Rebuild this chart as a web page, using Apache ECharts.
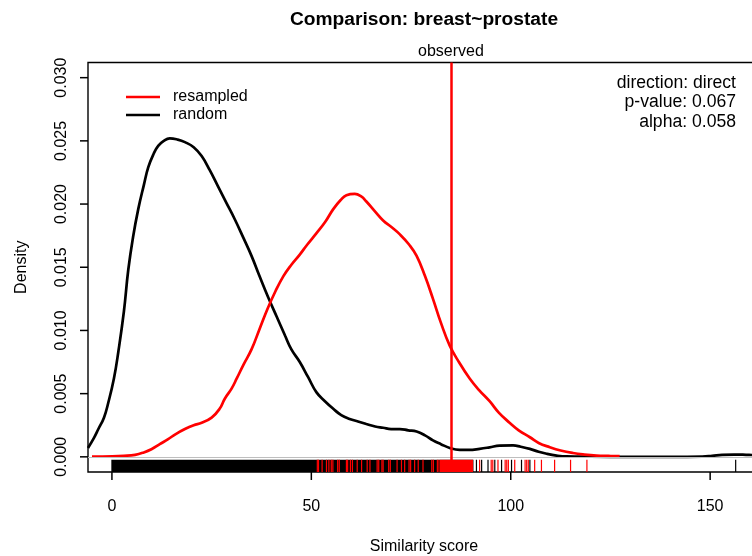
<!DOCTYPE html>
<html>
<head>
<meta charset="utf-8">
<script src="https://cdn.jsdelivr.net/npm/echarts@6/dist/echarts.min.js"></script>
<style>html,body{margin:0;padding:0;background:#fff}#c{width:752px;height:556px}</style>
</head>
<body>
<div id="c"></div>
<script>
// ---- data ----
const xTicks = [0, 50, 100, 150];
const yTicks = [0, 0.005, 0.01, 0.015, 0.02, 0.025, 0.03];

const randomDensity = [
  [-6, 0.0007], [-4.5, 0.0015], [-3.4, 0.0022], [-2, 0.0031], [-0.9, 0.0043], [0.5, 0.0062],
  [1.6, 0.0083], [3, 0.0115], [4.1, 0.0148], [5.3, 0.0174], [6.6, 0.0196], [8, 0.0215],
  [9.1, 0.0229], [10.5, 0.0240], [11.6, 0.0246], [13, 0.0250], [14.5, 0.0252], [16.5, 0.0251],
  [18.3, 0.0249], [20.5, 0.0245], [22.5, 0.0238], [24.5, 0.0227], [26.6, 0.0214], [28.7, 0.0201],
  [30.8, 0.0188], [33, 0.0173], [35, 0.0159], [37, 0.0143], [39.2, 0.0126], [41.3, 0.0111],
  [43.4, 0.0096], [45, 0.0085], [47.1, 0.0075], [49.2, 0.0063], [51.3, 0.0051], [53.4, 0.0044],
  [55.5, 0.0038], [57.5, 0.0033], [59.6, 0.0030], [61.7, 0.0028], [63.8, 0.0026], [66, 0.0024],
  [68, 0.0023], [70, 0.0022], [72.2, 0.0022], [74.3, 0.0021], [76.4, 0.0020], [78.5, 0.0017],
  [80.5, 0.0013], [82.5, 0.0010], [84.7, 0.0007], [87.2, 0.00055], [89.5, 0.00055], [92.2, 0.00063],
  [94.7, 0.00075], [97.2, 0.00089], [100.6, 0.0009], [102.5, 0.0008], [104.8, 0.00063], [107, 0.0004],
  [109, 0.00024], [111.5, 0.0001], [114, 0.00003], [120, 0.00001], [130, 0], [140, 0],
  [148, 0.00002], [150.5, 0.00008], [153, 0.00016], [156, 0.00018], [159, 0.00016], [162.5, 0.00012]
];

const resampledDensity = [
  [-5, 0.00002], [0, 0.00004], [3, 0.00008], [5.8, 0.00016], [8, 0.00035], [9.9, 0.0006],
  [12, 0.001], [14.1, 0.0014], [16, 0.0018], [18.3, 0.0022], [20.5, 0.0025], [22.5, 0.0027],
  [25, 0.0031], [27, 0.0038], [28.3, 0.0046], [30, 0.0054], [31.3, 0.0062], [33, 0.0073],
  [35, 0.0085], [37, 0.0101], [39, 0.0117], [41, 0.0131], [43, 0.0143], [45, 0.0152],
  [47.1, 0.0160], [49, 0.0168], [51.3, 0.0177], [53.5, 0.0186], [55.5, 0.0196], [57.3, 0.0203],
  [58.8, 0.0207], [60.9, 0.0208], [62.5, 0.0206], [63.8, 0.0202], [66, 0.0194], [68, 0.0187],
  [70, 0.0182], [72.2, 0.0176], [74.5, 0.0168], [76.4, 0.0159], [78.5, 0.0143], [80.5, 0.0125],
  [82.5, 0.0106], [84.7, 0.0088], [87, 0.0075], [89.7, 0.0062], [92, 0.0053], [94.7, 0.0044],
  [97, 0.0035], [99.7, 0.0027], [102, 0.0021], [104.8, 0.00155], [107, 0.0011], [109.8, 0.00076],
  [112.5, 0.0005], [115.6, 0.0003], [118.5, 0.00018], [121.5, 0.0001], [124.5, 0.00007], [127.3, 0.00005]
];

// rug: spans where ticks merge into a solid block, and individual ticks
const randomRugBands = [[0, 90.5]];
const randomRugTicks = [91.4, 92.7, 94.3, 96.0, 97.7, 100.2, 102.7, 104.8, 156.4];
const resampledRugBands = [[82.4, 90.4]];
const resampledRugTicks = [
  51.5, 51.8, 52.7, 53.8, 54.4, 55.0, 55.4, 56.6, 57.0, 58.8, 59.1, 59.8, 60.3, 61.5, 62.6,
  64.0, 64.7, 66.5, 66.9, 67.7, 68.0, 69.4, 69.8, 71.5, 72.6, 73.4, 74.5, 74.9, 75.9, 76.8,
  78.0, 80.2, 80.6, 81.6, 82.0, 92.2, 95.1, 95.5, 96.8, 98.6, 99.0, 99.4, 101.0, 103.6, 104.0,
  104.4, 106.0, 107.7, 111.0, 115.0, 119.1
];

const observed = 85;
const statsText = ['direction: direct', 'p-value: 0.067', 'alpha: 0.058'];

// ---- chart ----
const FONT = '"Liberation Sans", Arial, Helvetica, sans-serif';
const X_MIN = -6, X_MAX = 162.5, Y_MIN = -0.0012, Y_MAX = 0.0312;
const RUG_H = 12.3, TICK_LEN = 8;

function rugTicks(color) {
  return function (params, api) {
    const p = api.coord([api.value(0), Y_MIN]);
    return { type: 'line', shape: { x1: p[0], y1: p[1], x2: p[0], y2: p[1] - RUG_H },
             style: { stroke: color, lineWidth: 1.2 } };
  };
}
function rugBands(color) {
  return function (params, api) {
    const a = api.coord([api.value(0), Y_MIN]);
    const b = api.coord([api.value(1), Y_MIN]);
    return { type: 'rect', shape: { x: a[0] - 0.6, y: a[1] - RUG_H, width: b[0] - a[0] + 1.2, height: RUG_H },
             style: { fill: color } };
  };
}

const chart = echarts.init(document.getElementById('c'), null, { renderer: 'canvas' });
const baseGraphic = statsText.map((t, i) => ({
  type: 'text', x: 736, y: 83 + i * 19.5, z: 10,
  style: { text: t, textAlign: 'right', textVerticalAlign: 'middle', fontFamily: FONT, fontSize: 17.6, fill: '#000' }
}));

chart.setOption({
  animation: false,
  backgroundColor: '#fff',
  title: {
    text: 'Comparison: breast~prostate', left: 419, top: 5, textAlign: 'center',
    textStyle: { fontFamily: FONT, fontSize: 19.2, fontWeight: 'bold', color: '#000' }
  },
  legend: {
    orient: 'vertical', left: 126, top: 89, icon: 'rect', itemWidth: 34, itemHeight: 2.7, itemGap: 2,
    padding: 0, data: ['resampled', 'random'],
    textStyle: { fontFamily: FONT, fontSize: 16, color: '#000', padding: [0, 0, 0, 8] }
  },
  grid: {
    left: 88, top: 62.5, right: -8, bottom: 84, containLabel: false, outerBoundsMode: 'none',
    show: true, borderColor: '#000', borderWidth: 1.4
  },
  xAxis: {
    type: 'value', min: X_MIN, max: X_MAX,
    axisLine: { show: false, onZero: false }, splitLine: { show: false }, axisTick: { show: false },
    axisLabel: { customValues: xTicks, fontFamily: FONT, fontSize: 16, color: '#000', margin: 27 },
    name: 'Similarity score', nameLocation: 'middle', nameGap: 67,
    nameTextStyle: { fontFamily: FONT, fontSize: 16, color: '#000' }
  },
  yAxis: {
    type: 'value', min: Y_MIN, max: Y_MAX,
    axisLine: { show: false, onZero: false }, splitLine: { show: false }, axisTick: { show: false },
    axisLabel: { customValues: yTicks, rotate: 90, fontFamily: FONT, fontSize: 16, color: '#000', margin: 18,
                 formatter: v => v.toFixed(3) },
    name: 'Density', nameLocation: 'middle', nameGap: 58,
    nameTextStyle: { fontFamily: FONT, fontSize: 16, color: '#000' }
  },
  graphic: baseGraphic,
  series: [
    { name: 'randomRugBand', type: 'custom', renderItem: rugBands('#000'), data: randomRugBands, clip: true, silent: true, z: 1 },
    { name: 'randomRug', type: 'custom', renderItem: rugTicks('#000'), data: randomRugTicks.map(v => [v]), clip: true, silent: true, z: 1 },
    { name: 'resampledRugBand', type: 'custom', renderItem: rugBands('#ff0000'), data: resampledRugBands, clip: true, silent: true, z: 2 },
    { name: 'resampledRug', type: 'custom', renderItem: rugTicks('#ff0000'), data: resampledRugTicks.map(v => [v]), clip: true, silent: true, z: 2 },
    {
      name: 'random', type: 'line', data: randomDensity, showSymbol: false, symbol: 'none', smooth: 0.45,
      lineStyle: { color: '#000', width: 2.7 }, itemStyle: { color: '#000' }, clip: true, z: 3,
      markLine: {
        silent: true, symbol: 'none', data: [{ yAxis: 0 }], label: { show: false },
        lineStyle: { color: '#bebebe', width: 1.2, type: 'solid' }
      }
    },
    {
      name: 'resampled', type: 'line', data: resampledDensity, showSymbol: false, symbol: 'none', smooth: 0.45,
      lineStyle: { color: '#ff0000', width: 2.7 }, itemStyle: { color: '#ff0000' }, clip: true, z: 4,
      markLine: {
        silent: true, symbol: 'none', data: [{ xAxis: observed }],
        lineStyle: { color: '#ff0000', width: 2.5, type: 'solid' },
        label: { show: true, position: 'end', formatter: 'observed', fontFamily: FONT, fontSize: 16, color: '#000', distance: 3 }
      }
    }
  ]
});

// outward axis tick marks, positioned through the chart's own axis scales
const tickGraphics = [];
xTicks.forEach(v => {
  const p = chart.convertToPixel({ gridIndex: 0 }, [v, Y_MIN]);
  tickGraphics.push({ type: 'line', z: 100, silent: true,
    shape: { x1: p[0], y1: p[1], x2: p[0], y2: p[1] + TICK_LEN }, style: { stroke: '#000', lineWidth: 1.5 } });
});
yTicks.forEach(v => {
  const p = chart.convertToPixel({ gridIndex: 0 }, [X_MIN, v]);
  tickGraphics.push({ type: 'line', z: 100, silent: true,
    shape: { x1: p[0], y1: p[1], x2: p[0] - TICK_LEN, y2: p[1] }, style: { stroke: '#000', lineWidth: 1.5 } });
});
chart.setOption({ graphic: baseGraphic.concat(tickGraphics) }, { replaceMerge: ['graphic'] });
</script>
</body>
</html>
